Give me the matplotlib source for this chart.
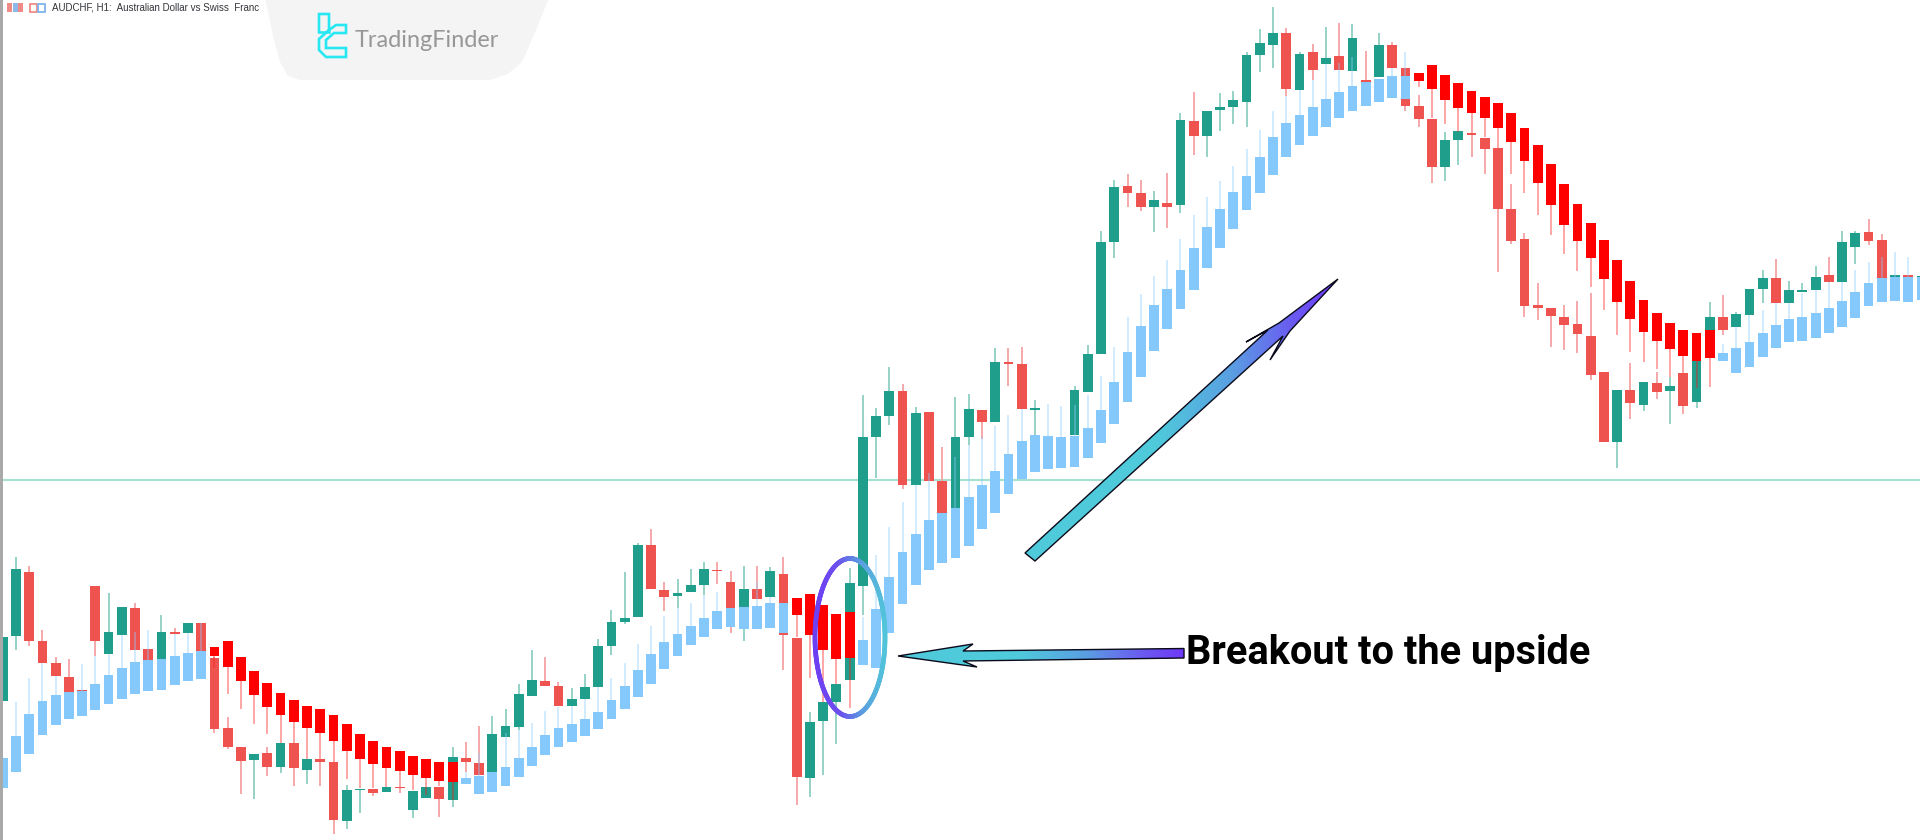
import numpy as np
import matplotlib
matplotlib.use("Agg")
import matplotlib.pyplot as plt
from matplotlib.patches import Polygon, Rectangle
from matplotlib.collections import LineCollection
from matplotlib.colors import LinearSegmentedColormap

# ---------- price candles (levels, larger = lower on the chart)
main_top = [637,569,572,641,663,677,690,586,632,607,
            608,649,632,632,623,623,658,728,747,754,
            753,743,743,759,759,762,790,789,789,787,
            787,791,787,787,757,758,763,734,726,694,
            680,681,686,699,687,646,622,618,545,545,
            590,593,585,569,570,582,589,589,571,574,
            638,722,702,684,583,437,416,391,391,413,
            412,481,437,409,410,362,362,364,408,440,
            440,390,354,242,187,186,193,200,203,120,
            121,111,107,100,55,43,33,33,54,52,
            58,56,38,80,45,45,68,106,119,140,
            131,133,138,148,209,239,305,308,317,324,
            336,372,390,390,382,383,386,373,361,317,
            317,314,289,278,278,290,290,277,275,242,
            233,232,240,275,275,276]
main_bot = [701,636,641,663,676,692,692,641,654,635,
            650,660,659,634,633,651,729,747,761,760,
            767,767,768,770,762,820,821,790,793,792,
            788,810,798,799,800,762,775,772,737,727,
            696,686,706,706,699,687,646,622,617,589,
            597,596,592,585,571,608,607,599,597,635,
            777,778,721,702,680,586,437,416,485,485,
            481,513,508,437,422,422,364,409,410,460,
            462,435,392,354,242,193,207,207,207,205,
            136,136,110,107,102,55,45,89,90,70,
            64,70,71,82,77,68,106,119,167,167,
            140,135,149,209,241,306,308,316,325,334,
            375,442,442,403,405,392,391,406,402,330,
            330,327,315,289,303,303,292,290,282,282,
            247,241,278,277,277,277]
main_hi = [637,557,566,630,657,659,690,586,593,607,
           603,649,615,628,623,623,657,717,747,754,
           747,743,743,759,759,762,785,789,789,787,
           772,791,787,787,747,742,726,716,709,684,
           650,657,682,688,674,639,610,572,543,529,
           582,579,569,562,562,571,566,566,567,557,
           638,712,702,684,568,395,408,367,384,407,
           412,447,397,394,410,348,348,347,400,440,
           440,386,345,231,180,174,180,191,173,113,
           92,111,93,91,52,29,7,28,52,44,
           27,23,24,51,33,42,68,95,119,132,
           131,133,138,148,184,233,283,308,305,301,
           293,372,390,363,382,372,377,373,361,302,
           295,312,289,270,259,281,283,266,257,231,
           231,219,234,275,275,276]
main_lo = [701,650,646,663,676,692,692,656,654,635,
           650,660,659,634,633,651,733,749,794,799,
           776,773,786,784,786,834,829,813,796,792,
           793,818,798,817,807,772,775,772,737,730,
           696,686,706,706,699,687,655,624,617,589,
           611,608,592,595,584,633,641,599,597,670,
           805,797,775,744,680,615,478,425,489,485,
           481,513,508,445,439,422,386,409,435,460,
           462,435,392,354,258,207,211,232,228,213,
           155,157,131,124,127,72,68,96,90,80,
           64,70,71,82,77,68,111,127,183,181,
           165,157,174,272,244,317,320,347,350,353,
           380,442,468,419,411,399,424,414,408,330,
           335,327,315,303,303,303,292,290,282,282,
           264,245,278,277,277,277]
main_dir = ("ggrrrrrrgg" "rrgrgrrrrg" "rgrgrrggrg" "rggrgrrggg" "grrggggggr"
            "rgggrrgrgr" "rgggggggrg" "rrggrgrrgg" "gggggrrgrg" "rggggggrgr"
            "grgrgrrrrg" "grrrrrrrrr" "rrgrgrgrgg" "rgggrgggrg" "grrgrg")

# ---------- trend-indicator candles
over_top = [758,736,714,701,695,692,691,684,675,668,
            662,660,659,656,653,651,647,641,657,671,
            683,693,700,706,709,715,724,734,741,747,
            751,756,759,762,762,778,776,772,767,758,
            747,735,728,724,719,712,700,686,670,654,
            642,634,626,618,611,608,607,606,603,603,
            598,594,605,614,612,640,609,577,552,534,
            520,513,508,497,485,471,454,441,435,436,
            437,436,428,410,382,352,326,305,289,270,
            248,227,209,192,176,157,137,123,115,107,
            99,92,86,82,79,76,76,73,65,75,
            83,91,97,103,113,128,145,164,184,204,
            223,240,260,281,300,313,323,330,333,330,
            353,348,342,333,325,319,317,313,308,301,
            292,283,278,277,277,277]
over_bot = [788,772,754,735,725,719,716,710,704,699,
            694,691,690,685,681,679,656,667,681,695,
            707,715,722,728,733,741,751,759,764,768,
            771,775,778,781,782,784,794,792,786,777,
            766,755,747,742,736,729,719,709,697,684,
            669,656,645,637,629,627,629,629,628,633,
            615,635,650,659,658,665,668,633,604,585,
            570,563,558,546,529,513,494,479,472,469,
            468,467,458,443,424,402,377,351,329,309,
            290,268,248,229,210,193,175,157,145,136,
            127,118,111,106,102,98,99,81,89,100,
            108,113,118,128,142,161,183,205,225,241,
            258,279,302,319,332,341,349,356,361,358,
            361,373,367,357,348,342,341,338,333,327,
            318,306,302,301,302,300]
over_hi = [758,702,678,663,676,692,664,656,654,635,
           632,630,659,634,633,623,647,641,657,671,
           683,693,700,706,709,715,724,734,741,747,
           751,756,759,762,762,772,753,772,733,730,
           723,711,707,706,699,687,678,663,644,626,
           616,608,603,595,592,608,607,582,597,603,
           598,594,605,614,612,617,555,527,502,485,
           473,513,457,445,437,426,415,409,435,404,
           406,405,395,376,347,317,294,276,260,239,
           215,197,181,166,149,130,111,96,90,80,
           64,63,57,82,79,68,52,73,65,75,
           83,91,97,103,113,128,145,164,184,204,
           223,240,260,281,300,313,323,330,333,330,
           344,327,315,310,303,303,293,290,282,282,
           270,262,257,252,257,277]
over_lo = [788,772,754,735,725,719,716,710,704,699,
           694,691,690,685,681,679,668,694,709,724,
           734,743,743,759,759,762,779,788,788,787,
           772,790,795,786,800,784,794,792,786,777,
           766,755,747,742,736,729,719,709,697,684,
           669,656,645,637,629,627,629,629,628,633,
           637,678,702,684,708,665,668,633,604,585,
           570,563,558,546,529,513,494,479,472,469,
           468,467,458,443,424,402,377,351,329,309,
           290,268,248,229,210,193,175,157,145,136,
           127,118,111,106,102,98,99,87,118,124,
           132,133,137,148,174,193,215,235,254,271,
           287,310,335,352,362,369,377,373,388,387,
           361,373,367,357,348,342,341,338,333,327,
           318,306,302,301,302,300]
over_dir = "b"*16 + "r"*19 + "b"*25 + "r"*5 + "b"*42 + "r"*23 + "b"*16
level_line = 480

symbol_text = "AUDCHF, H1:  Australian Dollar vs Swiss  Franc"
brand_text = "TradingFinder"
note_text = "Breakout to the upside"

# ---------- styles
GREEN, RED = "#1f9e8b", "#ee5350"
GREEN_W, RED_W = "#8ccfc2", "#f5a3a3"
BLUE, PURE = "#85c9fc", "#ff0000"
BLUE_W, PURE_W = (0.55, 0.80, 1.0, 0.42), (1, 0.1, 0.1, 0.42)

fig = plt.figure(figsize=(19.2, 8.4), dpi=100, facecolor="white")
ax = fig.add_axes([0, 0, 1, 1])
step = 13.233
ax.set_xlim(-2.7/step, (1920-2.7)/step)
ax.set_ylim(840, 0)
ax.axis("off")

x = np.arange(len(main_top))
m_top, m_bot, m_hi, m_lo = map(np.array, (main_top, main_bot, main_hi, main_lo))
o_top, o_bot, o_hi, o_lo = map(np.array, (over_top, over_bot, over_hi, over_lo))

ax.axhline(level_line, xmin=0.001, color="#a6e0d2", lw=1.5, zorder=1)

ax.vlines(x, m_hi, m_lo, colors=[GREEN_W if d == "g" else RED_W for d in main_dir],
          lw=1.3, zorder=2)
ax.bar(x, m_bot-m_top, bottom=m_top, width=0.74,
       color=[GREEN if d == "g" else RED for d in main_dir], lw=0, zorder=3)
ax.bar(x, o_bot-o_top, bottom=o_top, width=0.74,
       color=[BLUE if d == "b" else PURE for d in over_dir], lw=0, zorder=4)
ax.vlines(x, o_hi, o_top, colors=[BLUE_W if d == "b" else PURE_W for d in over_dir],
          lw=1.3, zorder=5)
ax.vlines(x, o_bot, o_lo, colors=[BLUE_W if d == "b" else PURE_W for d in over_dir],
          lw=1.3, zorder=5)

# ---------- annotation layer in image pixels
an = fig.add_axes([0, 0, 1, 1], facecolor="none")
an.set_xlim(0, 1920)
an.set_ylim(840, 0)
an.axis("off")

an.add_patch(Rectangle((0, 0), 3, 840, color="#a9a9a9", lw=0, zorder=6))

grad = LinearSegmentedColormap.from_list(
    "g", [(0, "#4fcadb"), (0.42, "#4fcadb"), (0.66, "#5a9fe2"), (0.85, "#6a5cf0"), (1, "#7038f8")])

def gradient_arrow(points):
    xy = np.array(points, float)
    poly = Polygon(xy, closed=True, fc="none", ec="#0a0a1a", lw=1.0, zorder=12)
    an.add_patch(poly)
    g = np.linspace(0, 1, 256)[None, :]
    im = an.imshow(g, cmap=grad,
                   extent=(xy[:, 0].min(), xy[:, 0].max(), xy[:, 1].max(), xy[:, 1].min()),
                   aspect="auto", zorder=11, vmin=0, vmax=1)
    im.set_clip_path(Polygon(xy, closed=True, transform=an.transData))

up_arrow = [(1025, 553), (1268, 330), (1246, 342), (1279, 323), (1338, 279),
            (1290, 331), (1270, 360), (1283, 336), (1035, 561)]
left_arrow = [(1184, 648.5), (963, 651), (973, 644), (898, 656), (977, 667),
              (963, 661), (1184, 658)]
gradient_arrow(up_arrow)
gradient_arrow(left_arrow)
an.set_xlim(0, 1920)
an.set_ylim(840, 0)

# ellipse with a colour sweep
t = np.linspace(0, 2*np.pi, 361)
ex, ey = 850 + 35*np.cos(t), 637.5 + 79*np.sin(t)
segs = np.stack([np.c_[ex[:-1], ey[:-1]], np.c_[ex[1:], ey[1:]]], axis=1)
ring = LinearSegmentedColormap.from_list("r", ["#6d3ff2", "#6d50ee", "#5b9fe0", "#52c4da"])
lc = LineCollection(segs, cmap=ring, lw=3.4, zorder=10, capstyle="round")
lc.set_array((ex[:-1]-815)/70)
an.add_collection(lc)

an.text(1186, 664, note_text, family="Roboto", weight="bold", fontsize=28.6,
        color="black", ha="left", va="baseline", zorder=13)

# ---------- watermark panel
panel = [(265, -2), (549, -2), (536, 30), (522, 62), (508, 74), (490, 80),
         (300, 80), (288, 76), (280, 62), (274, 40)]
an.add_patch(Polygon(panel, closed=True, fc="#f4f4f4", ec="none", zorder=7))
logo = [(319, 32), (319, 14), (329, 14), (329, 30), (336, 25), (346, 25), (346, 33),
        (334, 33), (326, 40), (326, 48), (346, 48), (346, 57), (326, 57), (319, 50),
        (319, 39), (329, 30)]
an.plot(*zip(*logo), color="#27e8f2", lw=1.9, zorder=8, solid_joinstyle="miter")
an.plot([319, 329], [32, 32], color="#27e8f2", lw=1.9, zorder=8)
an.text(355, 47, brand_text, family="Lato", weight="normal", fontsize=16.9,
        color="#979797", ha="left", va="baseline", zorder=8)

# ---------- terminal title bar
for x0, col in ((7, "#ee8b86"), (12.5, "#8db8ea"), (18, "#ee8b86")):
    an.add_patch(Rectangle((x0, 3), 5, 9, fc=col, ec="none", zorder=8))
for x0, col in ((30, "#ee8b86"), (38, "#7fb4ea")):
    an.add_patch(Rectangle((x0, 4), 6.5, 8, fc="white", ec=col, lw=1.3, zorder=8))
an.text(52, 7.5, symbol_text, family="Liberation Sans", fontsize=7.05,
        color="#33363b", ha="left", va="center", zorder=8)

fig.savefig("out.png", dpi=100, facecolor="white")
